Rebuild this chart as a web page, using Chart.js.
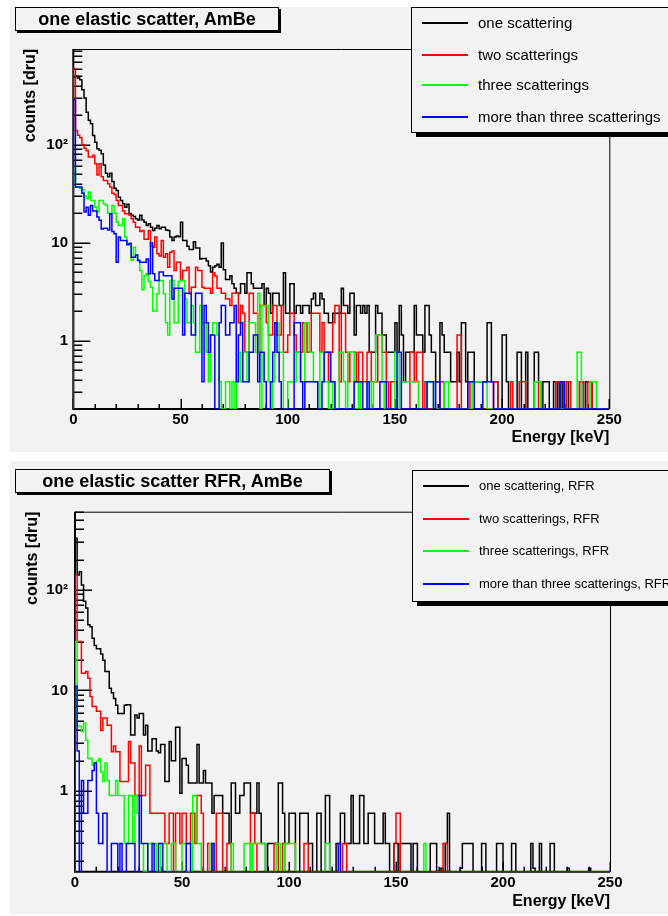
<!DOCTYPE html>
<html>
<head>
<meta charset="utf-8">
<script src="https://cdn.jsdelivr.net/npm/chart.js@4.4.1/dist/chart.umd.min.js"></script>
<style>
  html, body { margin: 0; padding: 0; background: #ffffff; }
  body { width: 668px; height: 916px; position: relative; overflow: hidden;
         font-family: 'Liberation Sans', Arial, Helvetica, sans-serif; color: #000; }
  .pad { position: absolute; background: #f2f2f2; }
  canvas { position: absolute; left: 0; }
  .title { position: absolute; background: #f2f2f2; border: 1px solid #000; box-shadow: 2px 2px 0 #000;
           box-sizing: border-box; font-weight: bold; font-size: 18px; text-align: center; white-space: nowrap; }
  .legend { position: absolute; background: #f2f2f2; border: 1px solid #000; box-shadow: 5px 4px 0 #000;
            box-sizing: border-box; }
  .legend .swatch { position: absolute; left: 10px; width: 46px; height: 0; border-top-style: solid; border-top-width: 2px; }
  .legend .lbl { position: absolute; left: 66px; white-space: nowrap; }
</style>
</head>
<body>
<div class="pad" style="left:10px; top:7px; width:658px; height:445px;"></div>
<div class="pad" style="left:10px; top:461px; width:658px; height:453px;"></div>
<canvas id="allEvents" width="668" height="456" style="top:0px;"></canvas>
<canvas id="rfrEvents" width="668" height="460" style="top:456px;"></canvas>
<div class="title" id="title1" style="left:15px; top:7px; width:264px; height:24px; line-height:22px;"></div>
<div class="title" id="title2" style="left:15px; top:469px; width:315px; height:24px; line-height:22px;"></div>
<div class="legend" id="legend1" style="left:411px; top:7px; width:280px; height:126px;"></div>
<div class="legend" id="legend2" style="left:412px; top:470px; width:280px; height:132px;"></div>
<script>
// ---- histogram contents, 1 keV bins from 0 to 250 keV, counts in dru ----
const BIN_KEV = 1;

const plotTitles = ['one elastic scatter, AmBe', 'one elastic scatter RFR, AmBe'];
const seriesNames = ['one scattering', 'two scatterings', 'three scatterings', 'more than three scatterings'];
const rfrSeriesNames = ['one scattering, RFR', 'two scatterings, RFR', 'three scatterings, RFR', 'more than three scatterings, RFR'];
const seriesColors = ['#000000', '#ff0000', '#00ff00', '#0000ff'];

const xTickValues = [0, 50, 100, 150, 200, 250];
const yTickValues = [1, 10, 100];
const yTickText = ['1', '10', '10\u00b2'];
const xTitle = 'Energy [keV]';
const yTitle = 'counts [dru]';

// all events
const allOne = [
  490, 503, 480, 460, 365, 300, 215, 178, 164, 124,
  106, 91, 88, 81, 62, 51, 47, 51, 42, 36,
  34, 29, 27, 25, 23, 24.6, 19.8, 19, 18.5, 17.5,
  17, 19, 17, 16.2, 15, 15.6, 14.4, 13.3, 14, 15,
  13.9, 14.4, 14.4, 13.5, 13.3, 11.4, 10.5, 11.4, 11.7, 11.5,
  16.2, 10.5, 10.5, 9.2, 8.5, 8.5, 10.2, 8.8, 8.8, 6.8,
  6.9, 6.9, 6.5, 5.8, 5.0, 5.6, 5.8, 6.0, 5.6, 9.9,
  5.3, 4.2, 4.2, 4.6, 3.8, 3.42, 3.04, 3.04, 3.8, 3.8,
  3.04, 4.94, 4.94, 3.8, 3.42, 3.42, 3.42, 3.42, 3.8, 2.28,
  3.42, 3.04, 1.9, 3.04, 3.04, 3.04, 2.28, 2.28, 4.94, 1.9,
  1.9, 3.8, 3.8, 1.9, 2.28, 2.28, 1.9, 2.28, 2.28, 2.28,
  1.9, 2.66, 3.04, 2.28, 2.28, 3.04, 2.66, 1.9, 1.9, 1.52,
  1.52, 1.9, 1.9, 1.9, 1.9, 3.42, 2.28, 2.28, 1.9, 3.04,
  3.04, 1.14, 2.28, 2.28, 1.9, 2.28, 1.9, 2.28, 0.76, 0.76,
  0.76, 2.28, 1.9, 1.9, 1.14, 1.14, 0.76, 0.76, 0.76, 0.76,
  1.52, 0.76, 2.28, 1.14, 0.38, 0.76, 0.76, 0.76, 0.76, 2.28,
  1.14, 1.14, 1.14, 0.76, 2.28, 2.28, 1.14, 0.76, 0.76, 0.38,
  0.38, 1.52, 1.14, 0.76, 0.76, 0.76, 0.38, 0.38, 0.38, 0.76,
  0.38, 1.52, 1.52, 0.38, 0.76, 0.76, 0.76, 0.38, 0.38, 0.38,
  0.38, 0.38, 0.38, 1.52, 1.52, 0.38, 0.38, 0.38, 0, 0,
  1.14, 1.14, 0.38, 0, 0, 0, 0, 0.76, 0.76, 0,
  0, 0.76, 0, 0, 0, 0.76, 0.76, 0.38, 0, 0.38,
  0.38, 0.38, 0, 0, 0.38, 0, 0.38, 0, 0.38, 0,
  0.38, 0, 0, 0, 0, 0, 0, 0.38, 0, 0.38,
  0.38, 0.38, 0, 0, 0, 0, 0, 0, 0, 0
];
const allTwo = [
  600, 140, 125, 118, 100, 92, 87, 75, 75, 78,
  64, 49, 64, 47, 43, 43, 40, 37, 32, 31,
  27, 24, 24, 21, 19.7, 19.7, 19.2, 17.5, 16.2, 14.4,
  14.4, 13, 13.3, 10.8, 10.8, 13.3, 9.3, 9.0, 11.4, 7.7,
  7.3, 10.5, 7.1, 7.7, 5.6, 8.0, 8.2, 5.2, 6.3, 6.3,
  4.1, 5.2, 5.2, 5.6, 3.0, 3.5, 3.5, 5.6, 5.2, 5.2,
  3.5, 3.42, 3.42, 3.42, 3.04, 4.94, 4.56, 3.42, 3.42, 3.04,
  3.04, 2.66, 2.66, 2.28, 3.04, 3.04, 3.04, 1.52, 2.28, 1.9,
  0.76, 0.76, 3.04, 3.04, 1.9, 1.9, 0.76, 2.28, 2.28, 2.28,
  1.52, 1.14, 1.14, 2.28, 2.28, 1.14, 1.14, 2.28, 0.76, 0.76,
  1.14, 1.9, 1.9, 1.14, 0.76, 0.76, 0.76, 1.52, 1.52, 0.76,
  0.76, 1.9, 1.9, 1.9, 1.9, 0.76, 1.52, 0.76, 0.76, 0.38,
  0.76, 1.52, 2.28, 2.28, 0.38, 1.9, 1.9, 0.76, 0.38, 0.76,
  0.76, 0.76, 0.38, 0.76, 0.76, 0.38, 0.38, 0.76, 0.76, 0.38,
  0.38, 0.38, 1.14, 1.14, 0.76, 0.76, 0.38, 0, 0.38, 0.38,
  0.38, 0, 0, 0, 0, 0, 0, 0.76, 0.76, 0.38,
  0.76, 0.76, 0.76, 0, 0.38, 0, 0, 0, 0, 0,
  0, 0.38, 0.38, 0, 0, 0, 0, 0, 0, 1.14,
  1.14, 0, 0, 0, 0.38, 0, 0, 0, 0, 0,
  0, 0, 0, 0, 0, 0, 0.38, 0.38, 0, 0,
  0, 0, 0, 0, 0.38, 0, 0, 0, 0.38, 0.38,
  0.38, 0, 0, 0, 0, 0.38, 0.38, 0, 0, 0,
  0, 0, 0, 0, 0, 0.38, 0.38, 0.38, 0.38, 0,
  0.38, 0.38, 0, 0, 0, 0, 0.38, 0.38, 0, 0,
  0.38, 0.38, 0, 0, 0, 0, 0, 0, 0, 0
];
const allThree = [
  59, 37, 37, 36, 35, 30, 28, 33, 27, 27,
  23, 20.6, 27, 27, 25, 24, 20, 20, 24, 20,
  16.2, 15, 15, 17.6, 11.4, 9.8, 9.8, 6.6, 9, 7.5,
  6.5, 5.2, 3.3, 4.6, 4.8, 4.0, 3.5, 2.0, 2.0, 3.0,
  4.1, 4.1, 3.0, 1.52, 1.14, 4.1, 4.1, 1.52, 1.52, 4.0,
  4.1, 4.1, 2.66, 1.52, 1.52, 2.28, 1.52, 0.76, 0.76, 2.28,
  1.52, 1.52, 0.76, 0.38, 1.14, 1.52, 1.52, 1.14, 0.38, 0,
  0, 0.38, 0.38, 0, 0.38, 0, 0.38, 0.76, 0.38, 0.76,
  0.76, 0.38, 1.52, 1.52, 1.52, 0.76, 3.04, 0, 2.28, 2.28,
  2.28, 0.38, 0, 0.38, 1.52, 1.52, 0.76, 0.76, 0, 0,
  0.38, 0.38, 0.38, 0.38, 0.76, 0.76, 0.38, 0.38, 1.52, 1.52,
  0.76, 0.76, 0.38, 0.38, 0, 0.76, 0.76, 0.38, 0.38, 0,
  0, 0.38, 0, 0, 0.76, 0.76, 0.38, 0, 0.76, 0.76,
  0.76, 0, 0, 0.38, 0, 0, 0, 0.38, 0.38, 0,
  0.38, 1.14, 1.14, 1.14, 0.38, 0, 0, 0, 0, 0,
  0.76, 0.76, 0, 0.38, 0.38, 0.38, 0.38, 0.38, 0.38, 0.38,
  0.38, 0, 0, 0, 0, 0.38, 0.38, 0.38, 0, 0,
  0, 0, 0, 0.38, 0.38, 0, 0, 0, 0, 0,
  0, 0, 0, 0, 0, 0, 0.38, 0.38, 0.38, 0.38,
  0.38, 0.38, 0.38, 0, 0, 0, 0, 0, 0, 0,
  0, 0, 0, 0, 0, 0, 0, 0, 0, 0,
  0, 0, 0, 0, 0, 0.38, 0.38, 0.38, 0, 0,
  0, 0, 0, 0, 0, 0, 0, 0, 0, 0,
  0, 0, 0, 0, 0, 0.76, 0.76, 0, 0, 0,
  0, 0.38, 0.38, 0.38, 0, 0, 0, 0, 0, 0
];
const allMore = [
  286, 37, 37, 37, 32, 20.6, 23, 19, 24, 21,
  21, 18.3, 16.9, 13.8, 14, 14, 13.5, 19.7, 13, 12.3,
  6.3, 11.4, 10.5, 10.5, 10.5, 9.5, 9.8, 7.1, 7.1, 7.5,
  6.6, 6.3, 6.3, 6.3, 6.8, 4.8, 10, 4.8, 4.1, 4.1,
  5.0, 5.0, 4.6, 4.6, 4.6, 4.6, 2.66, 3.42, 3.42, 3.42,
  3.42, 1.14, 3.04, 3.04, 3.04, 1.14, 1.14, 3.04, 3.04, 3.04,
  0.38, 2.28, 1.52, 0.76, 1.14, 1.14, 0, 0, 1.52, 2.28,
  2.28, 1.14, 1.14, 1.52, 1.52, 2.28, 0.38, 1.14, 1.52, 0.38,
  0.38, 0.38, 0.76, 0.76, 1.14, 1.14, 0.38, 0.76, 0.76, 0.38,
  0, 0, 0.38, 0.76, 1.52, 0.76, 0.38, 0, 0, 0,
  0, 0, 0, 1.52, 1.52, 1.52, 0.38, 0, 0.38, 0.38,
  0.38, 0.38, 0.38, 0.38, 0, 0, 0.38, 0.76, 0.76, 0.76,
  0.38, 0.38, 0, 0, 0, 0, 0, 0, 0, 0,
  0, 0.38, 0.38, 0.38, 0.38, 0, 0, 0.38, 0, 0,
  0, 0, 0, 0.38, 0.38, 0.38, 0, 0, 0, 0,
  0, 0.76, 0.76, 0, 0, 0, 0, 0, 0, 0,
  0, 0, 0, 0, 0, 0.38, 0.38, 0.38, 0, 0.38,
  0.38, 0, 0, 0, 0, 0, 0, 0, 0, 0,
  0, 0, 0, 0, 0.38, 0.38, 0.38, 0, 0, 0,
  0, 0.38, 0.38, 0.38, 0.38, 0.38, 0, 0, 0, 0,
  0, 0, 0, 0, 0, 0, 0, 0, 0, 0,
  0, 0, 0, 0, 0, 0, 0, 0, 0, 0,
  0, 0, 0, 0, 0, 0, 0, 0.38, 0.38, 0,
  0, 0, 0, 0, 0, 0, 0, 0, 0, 0,
  0, 0, 0, 0, 0, 0, 0, 0, 0, 0
];

// events passing the RFR selection
const rfrOne = [
  327, 141, 152, 112, 77, 66, 45, 43, 33, 28,
  26, 26, 23, 20, 15.4, 15.4, 10.5, 9.5, 8.3, 7.1,
  5.9, 5.9, 5.9, 7.1, 7.2, 7.2, 3.6, 3.6, 5.7, 5.3,
  5.9, 5.9, 3.6, 4.5, 2.5, 2.5, 3.3, 3.3, 2.5, 2.4,
  2.9, 2.9, 1.24, 1.24, 3.1, 2.0, 2.0, 4.3, 4.3, 0.95,
  2.1, 2.1, 1.8, 1.2, 1.2, 1.2, 1.2, 2.9, 1.2, 1.2,
  1.6, 1.2, 1.2, 1.2, 0.6, 0.9, 0.9, 0.9, 0.9, 0.6,
  0.6, 0.6, 0.3, 1.2, 1.2, 0.6, 0.6, 0.9, 0.9, 1.2,
  1.2, 1.2, 0.6, 0.6, 0.6, 1.2, 0.6, 0.3, 0.3, 0,
  0.3, 0.3, 0.3, 0.3, 0.3, 1.2, 1.2, 0.6, 0.3, 0.3,
  0.6, 0.6, 0.6, 0, 0, 0.6, 0.6, 0.6, 0.6, 0.3,
  0.3, 0, 0, 0.6, 0.6, 0, 0, 0.9, 0.9, 0,
  0, 0, 0.3, 0.3, 0.6, 0.6, 0.3, 0.3, 0.3, 0.9,
  0.3, 0.3, 0.3, 0.9, 0.9, 0.3, 0.3, 0.6, 0.6, 0.6,
  0.3, 0.3, 0.3, 0.3, 0.6, 0.3, 0.3, 0, 0, 0.3,
  0.3, 0, 0.3, 0.3, 0.3, 0.3, 0.3, 0, 0.3, 0.3,
  0, 0, 0, 0, 0, 0, 0.3, 0.3, 0.3, 0,
  0, 0.17, 0, 0.3, 0.6, 0, 0, 0, 0, 0,
  0.17, 0.3, 0.3, 0.3, 0.3, 0.3, 0, 0, 0, 0,
  0.3, 0.3, 0, 0, 0, 0, 0, 0.3, 0.3, 0.3,
  0, 0, 0, 0, 0.3, 0.3, 0, 0, 0, 0,
  0, 0, 0, 0.3, 0.17, 0, 0, 0.3, 0, 0,
  0, 0, 0.3, 0.3, 0, 0, 0, 0, 0, 0,
  0.17, 0, 0, 0, 0, 0, 0, 0, 0, 0,
  0.17, 0, 0, 0, 0, 0, 0, 0, 0, 0
];
const rfrTwo = [
  141, 30.6, 30.6, 14.8, 14.8, 15.4, 13.2, 8.7, 6.9, 6.9,
  6.2, 6.2, 4.0, 5.3, 5.3, 4.5, 4.5, 2.45, 2.8, 2.45,
  2.45, 1.24, 1.24, 1.24, 1.24, 3.1, 1.9, 1.9, 0.9, 0.9,
  2.8, 0.9, 0.9, 1.8, 1.8, 0.6, 0.6, 0.6, 0.6, 0.6,
  0.6, 0.6, 0.3, 0.3, 0.6, 0.6, 0, 0.6, 0.6, 0.3,
  0.6, 0.6, 0.3, 0.3, 0.6, 0.6, 0.3, 0.9, 0.9, 0.6,
  0, 0, 0.3, 0.3, 0, 0, 0.6, 0.6, 0.6, 0,
  0, 0.3, 0.3, 0, 0, 0, 0, 0, 0, 0,
  0, 0, 0.6, 0.6, 0.3, 0, 0, 0, 0, 0,
  0, 0, 0, 0.3, 0.3, 0, 0, 0.3, 0, 0,
  0, 0, 0, 0, 0, 0, 0, 0.3, 0.3, 0,
  0, 0, 0, 0, 0, 0, 0, 0, 0, 0,
  0, 0, 0, 0, 0, 0.3, 0.3, 0, 0, 0,
  0, 0, 0, 0, 0, 0, 0, 0, 0, 0,
  0, 0, 0, 0, 0, 0, 0, 0, 0, 0.3,
  0.6, 0.6, 0, 0, 0, 0, 0, 0, 0, 0,
  0, 0, 0, 0, 0, 0, 0, 0, 0, 0,
  0, 0, 0.3, 0.3, 0, 0, 0, 0, 0, 0,
  0, 0, 0, 0, 0, 0, 0, 0, 0, 0,
  0, 0, 0, 0, 0, 0, 0, 0, 0, 0,
  0, 0, 0, 0, 0, 0, 0, 0, 0, 0,
  0, 0, 0, 0, 0, 0, 0, 0, 0, 0,
  0, 0, 0, 0, 0, 0, 0, 0, 0, 0,
  0, 0, 0, 0, 0, 0, 0, 0, 0, 0,
  0, 0, 0, 0, 0, 0, 0, 0, 0, 0
];
const rfrThree = [
  30.6, 4.4, 4.4, 3.9, 4.7, 3.2, 2.1, 2.1, 1.8, 1.9,
  1.97, 2.1, 1.54, 1.24, 1.9, 1.27, 0.9, 0.9, 0.9, 1.27,
  0.9, 0.9, 0.9, 0.3, 0.3, 0.9, 0.9, 0.3, 0.9, 0.6,
  0.3, 0.3, 0, 0, 0.3, 0.3, 0.3, 0.3, 0, 0,
  0.3, 0.3, 0.3, 0, 0, 0.3, 0.3, 0, 0, 0,
  0.3, 0.3, 0, 0, 0, 0.9, 0.9, 0.3, 0.3, 0,
  0, 0, 0, 0.3, 0.3, 0, 0, 0, 0, 0,
  0, 0, 0, 0.3, 0, 0, 0, 0, 0, 0.3,
  0.3, 0.3, 0, 0.3, 0.3, 0.3, 0.3, 0.3, 0.3, 0,
  0, 0, 0, 0, 0.3, 0.3, 0, 0, 0.3, 0.3,
  0.3, 0.3, 0.3, 0, 0, 0, 0, 0, 0, 0,
  0, 0, 0, 0, 0, 0, 0, 0.3, 0.3, 0,
  0, 0, 0, 0, 0, 0, 0, 0, 0, 0,
  0, 0, 0, 0, 0, 0, 0, 0, 0, 0,
  0, 0, 0, 0, 0, 0, 0, 0, 0, 0,
  0, 0, 0, 0, 0, 0, 0, 0, 0, 0,
  0, 0, 0, 0.3, 0, 0, 0, 0, 0, 0,
  0, 0, 0, 0, 0, 0, 0, 0, 0, 0,
  0, 0, 0, 0, 0, 0, 0, 0, 0, 0,
  0, 0, 0, 0, 0, 0, 0, 0, 0, 0,
  0, 0, 0, 0, 0, 0, 0, 0, 0, 0,
  0, 0, 0, 0, 0, 0, 0, 0, 0, 0,
  0, 0, 0, 0, 0, 0, 0, 0, 0, 0,
  0, 0, 0, 0, 0, 0, 0, 0, 0, 0,
  0, 0, 0, 0, 0, 0, 0, 0, 0, 0
];
const rfrMore = [
  11, 2.5, 0, 1.27, 0.6, 0.6, 1.27, 1.27, 1.6, 1.9,
  0.6, 0.3, 0.3, 0.6, 0.6, 0, 0, 0.3, 0.3, 0.3,
  0, 0.3, 0, 0, 0.3, 0.3, 0.3, 0.3, 0, 0,
  0.9, 0.3, 0.3, 0.3, 0, 0, 0.3, 0, 0, 0.3,
  0.3, 0, 0, 0, 0, 0, 0, 0, 0, 0,
  0, 0, 0.3, 0.3, 0, 0, 0, 0, 0, 0,
  0, 0, 0, 0, 0.3, 0, 0, 0, 0, 0,
  0, 0, 0, 0, 0, 0, 0, 0, 0, 0,
  0, 0, 0, 0, 0, 0, 0, 0, 0, 0,
  0, 0, 0, 0, 0, 0, 0, 0, 0, 0,
  0, 0, 0, 0, 0, 0, 0, 0, 0, 0,
  0, 0, 0, 0, 0, 0, 0, 0, 0, 0,
  0, 0, 0, 0.3, 0, 0, 0, 0, 0, 0,
  0, 0, 0, 0, 0, 0, 0, 0, 0, 0,
  0, 0, 0, 0, 0, 0, 0, 0, 0, 0,
  0, 0, 0, 0, 0, 0, 0, 0, 0, 0,
  0, 0, 0, 0, 0, 0, 0, 0, 0, 0,
  0, 0, 0, 0, 0, 0, 0, 0, 0, 0,
  0, 0, 0, 0, 0, 0, 0, 0, 0, 0,
  0, 0, 0, 0, 0, 0, 0, 0, 0, 0,
  0, 0, 0, 0, 0, 0, 0, 0, 0, 0,
  0, 0, 0, 0, 0, 0, 0, 0, 0, 0,
  0, 0, 0, 0, 0, 0, 0, 0, 0, 0,
  0, 0, 0, 0, 0, 0, 0, 0, 0, 0,
  0, 0, 0, 0, 0, 0, 0, 0, 0, 0
];

// ---- drawing ----
const FONT = "'Liberation Sans', Arial, Helvetica, sans-serif";
Chart.defaults.font.family = FONT;

// Histogram outline: rises from the frame floor at the first low edge, one
// point per bin low edge, closes at the last high edge. Empty bins sit on the floor.
function histPoints(values, floor) {
  const pts = [{ x: 0, y: floor }];
  values.forEach((v, i) => pts.push({ x: i * BIN_KEV, y: v > 0 ? v : floor }));
  pts.push({ x: values.length * BIN_KEV, y: floor });
  return pts;
}

// Frame, axis lines and inward tick marks (major + minor), placed with the chart scales.
const frameTicks = {
  id: 'frameTicks',
  beforeDatasetsDraw(chart) {
    const { ctx, chartArea: a, scales: { x, y } } = chart;
    ctx.save();
    ctx.strokeStyle = '#000';
    ctx.lineWidth = 1;
    ctx.beginPath();
    ctx.moveTo(a.left, a.top + 0.5);
    ctx.lineTo(a.right + 0.5, a.top + 0.5);
    ctx.lineTo(a.right + 0.5, a.bottom);
    ctx.stroke();
    ctx.lineWidth = 2;
    ctx.beginPath();
    ctx.moveTo(a.left, a.top);
    ctx.lineTo(a.left, a.bottom);
    ctx.lineTo(a.right, a.bottom);
    ctx.stroke();
    // y ticks: 1..9 in every decade inside the range
    ctx.lineWidth = 1.5;
    ctx.beginPath();
    const d0 = Math.floor(Math.log10(y.min)), d1 = Math.ceil(Math.log10(y.max));
    for (let d = d0; d <= d1; d++) {
      for (let m = 1; m <= 9; m++) {
        const v = m * Math.pow(10, d);
        if (v < y.min || v > y.max) continue;
        const py = Math.round(y.getPixelForValue(v)) + 0.25;
        const len = m === 1 ? 17 : 9;
        ctx.moveTo(a.left, py);
        ctx.lineTo(a.left + len, py);
      }
    }
    // x ticks: every 10 keV, longer at labelled values
    for (let v = x.min; v <= x.max; v += 10) {
      const px = Math.round(x.getPixelForValue(v)) + 0.25;
      const len = v % 50 === 0 ? 10 : 5;
      ctx.moveTo(px, a.bottom);
      ctx.lineTo(px, a.bottom - len);
    }
    ctx.stroke();
    ctx.restore();
  }
};

function makeChart(id, series, names, yRange, geo) {
  return new Chart(document.getElementById(id), {
    type: 'line',
    data: {
      datasets: series.map((vals, k) => ({
        label: names[k],
        data: histPoints(vals, yRange[0]),
        borderColor: seriesColors[k],
        borderWidth: 1.5,
        stepped: 'before',
        pointRadius: 0,
        fill: false,
        order: series.length - k
      }))
    },
    options: {
      responsive: false,
      animation: false,
      devicePixelRatio: 1,
      events: [],
      layout: { padding: { left: 0, right: geo.padRight, top: geo.padTop, bottom: 0 } },
      plugins: { legend: { display: false }, tooltip: { enabled: false }, title: { display: false } },
      scales: {
        x: {
          type: 'linear', min: 0, max: 250, bounds: 'data',
          grid: { display: false, drawTicks: false }, border: { display: false },
          afterBuildTicks: s => { s.ticks = xTickValues.map(v => ({ value: v })); },
          afterFit: s => { s.height = geo.xAxisHeight; },
          ticks: { color: '#000', padding: geo.xLabelPad, maxRotation: 0, autoSkip: false,
                   font: { family: FONT, size: 15, weight: 'bold' }, callback: v => String(v) },
          title: { display: true, text: xTitle, align: 'end', color: '#000',
                   font: { family: FONT, size: 16, weight: 'bold' },
                   padding: { top: 0, bottom: geo.xTitlePad } }
        },
        y: {
          type: 'logarithmic', min: yRange[0], max: yRange[1], bounds: 'data',
          grid: { display: false, drawTicks: false }, border: { display: false },
          afterBuildTicks: s => { s.ticks = yTickValues.map(v => ({ value: v })); },
          afterFit: s => { s.width = geo.yAxisWidth; },
          ticks: { color: '#000', padding: geo.yLabelPad, autoSkip: false,
                   font: { family: FONT, size: 15, weight: 'bold' },
                   callback: v => { const i = yTickValues.indexOf(v); return i >= 0 ? yTickText[i] : ''; } },
          title: { display: true, text: yTitle, align: 'end', color: '#000',
                   font: { family: FONT, size: 16, weight: 'bold' },
                   padding: { top: geo.yTitlePad, bottom: 0 } }
        }
      }
    },
    plugins: [frameTicks]
  });
}

makeChart('allEvents', [allOne, allTwo, allThree, allMore], seriesNames, [0.2, 950],
  { padTop: 49, padRight: 58.7, yAxisWidth: 73.3, xAxisHeight: 47, xLabelPad: 2, xTitlePad: 8.7, yLabelPad: 5.3, yTitlePad: 21.4 });
makeChart('rfrEvents', [rfrOne, rfrTwo, rfrThree, rfrMore], rfrSeriesNames, [0.157, 600],
  { padTop: 55.7, padRight: 58, yAxisWidth: 75, xAxisHeight: 44.3, xLabelPad: 2.3, xTitlePad: 4.9, yLabelPad: 7, yTitlePad: 22.9 });

// ---- title boxes and legends ----
document.getElementById('title1').textContent = plotTitles[0];
document.getElementById('title2').textContent = plotTitles[1];

function buildLegend(id, names, rowY, fontPx) {
  const box = document.getElementById(id);
  names.forEach((name, k) => {
    const sw = document.createElement('div');
    sw.className = 'swatch';
    sw.style.top = (rowY[k] - 1) + 'px';
    sw.style.borderTopColor = seriesColors[k];
    box.appendChild(sw);
    const lb = document.createElement('div');
    lb.className = 'lbl';
    lb.style.fontSize = fontPx + 'px';
    lb.style.lineHeight = '20px';
    lb.style.top = (rowY[k] - 10) + 'px';
    lb.textContent = name;
    box.appendChild(lb);
  });
}
buildLegend('legend1', seriesNames, [15, 47, 77, 109], 15);
buildLegend('legend2', rfrSeriesNames, [15, 48, 80, 113], 13);
</script>
</body>
</html>
